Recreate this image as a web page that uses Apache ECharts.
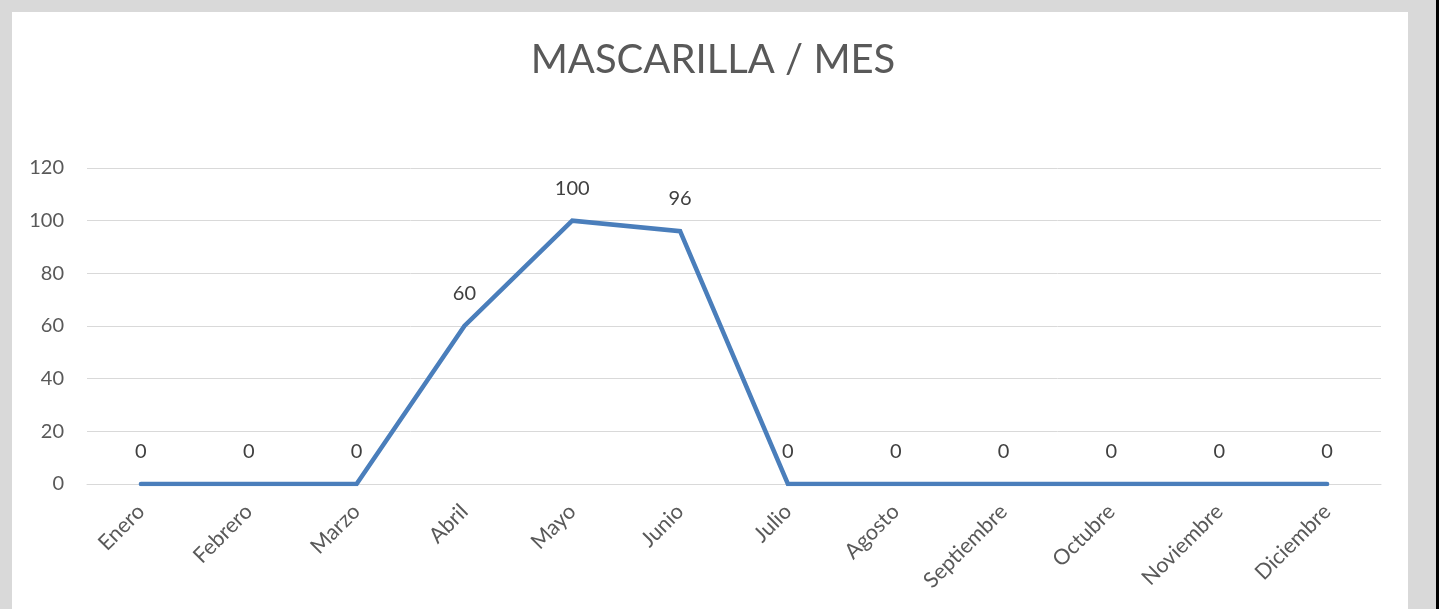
<!DOCTYPE html>
<html><head><meta charset="utf-8">
<script src="https://cdn.jsdelivr.net/npm/echarts@6/dist/echarts.min.js"></script>
<style>
html,body{margin:0;padding:0;width:1439px;height:609px;background:#d9d9d9;overflow:hidden;}
#white{position:absolute;left:12px;top:12px;width:1396px;height:597px;background:#fff;}
#black{position:absolute;left:1436px;top:0;width:3px;height:609px;background:#000;}
#c{position:absolute;left:0;top:0;width:1439px;height:609px;}
</style></head>
<body>
<div id="white"></div><div id="black"></div>
<div id="c"></div>
<script>
const title = 'MASCARILLA / MES';
const months = ['Enero','Febrero','Marzo','Abril','Mayo','Junio','Julio','Agosto','Septiembre','Octubre','Noviembre','Diciembre'];
const values = [0,0,0,60,100,96,0,0,0,0,0,0];
const yTicks = {min:0, max:120, interval:20};
const FONT = 'Lato, Carlito, "Open Sans", sans-serif';
const chart = echarts.init(document.getElementById('c'), null, {renderer:'canvas'});
chart.setOption({
  backgroundColor:'transparent',
  animation:false,
  title:{text:title, left:708, top:35, textAlign:'center',
    textStyle:{fontFamily:FONT, fontSize:40, fontWeight:'normal', color:'#595959'}},
  grid:{left:87, right:58, top:168, bottom:125, containLabel:false},
  xAxis:{type:'category', data:months, boundaryGap:true,
    axisLine:{show:true, lineStyle:{color:'#d9d9d9', width:1}},
    axisTick:{show:false},
    axisLabel:{rotate:45, interval:0, color:'#595959', fontFamily:FONT, fontSize:21.5, margin:24}},
  yAxis:{type:'value', min:yTicks.min, max:yTicks.max, interval:yTicks.interval,
    axisLine:{show:false}, axisTick:{show:false},
    splitLine:{lineStyle:{color:'#d9d9d9', width:1}},
    axisLabel:{color:'#595959', fontFamily:FONT, fontSize:20, margin:23}},
  series:[{type:'line', data:values, symbol:'circle', symbolSize:1, showSymbol:true,
    itemStyle:{opacity:0},
    lineStyle:{color:'#4a7ebb', width:4.5, cap:'round', join:'miter'},
    label:{show:true, position:'top', distance:22, color:'#404040', fontFamily:FONT, fontSize:20, opacity:1},
    emphasis:{disabled:true}}]
});
</script>
</body></html>
